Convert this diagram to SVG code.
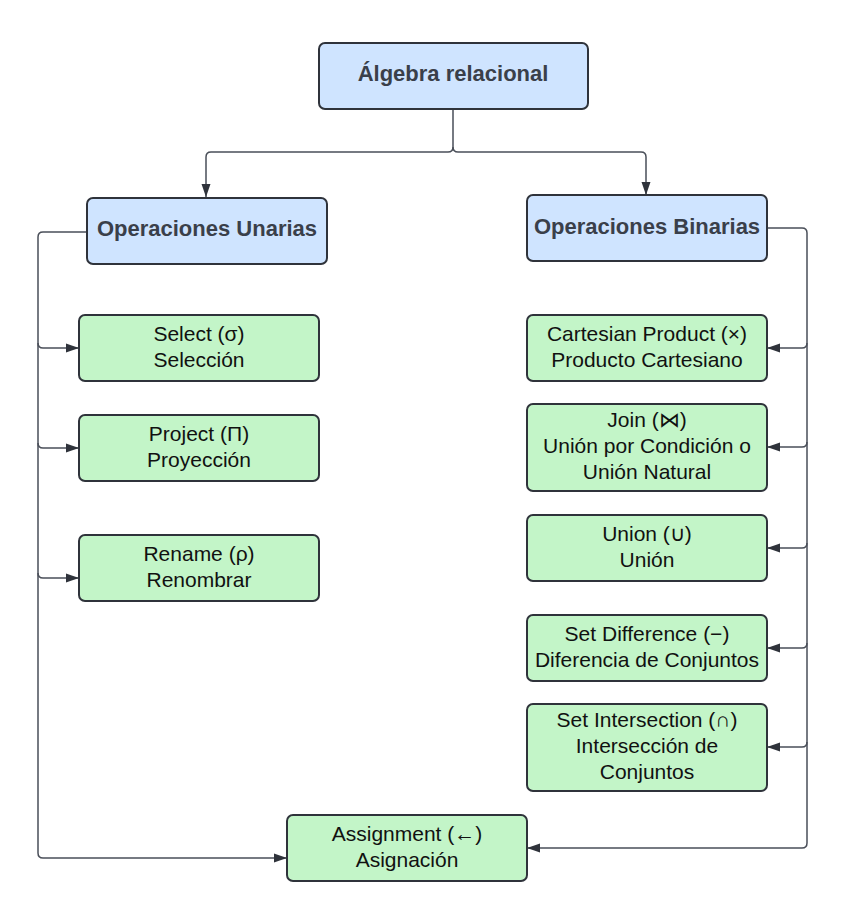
<svg xmlns="http://www.w3.org/2000/svg" width="847" height="924" viewBox="0 0 847 924">
<style>
.blue{fill:#cfe4ff;stroke:#2f333b;stroke-width:2}
.green{fill:#c3f5c8;stroke:#2f333b;stroke-width:2}
.h{font-family:"Liberation Sans",Arial,sans-serif;font-weight:bold;font-size:22px;fill:#3a3f4a;text-anchor:middle}
.t{font-family:"Liberation Sans",Arial,sans-serif;font-size:21px;fill:#111;text-anchor:middle}
.c{fill:none;stroke:#4a4f59;stroke-width:1.5}
</style>
<defs>
<marker id="arr" markerUnits="userSpaceOnUse" markerWidth="14" markerHeight="12" refX="13" refY="6" orient="auto">
<path d="M0,1.5 L13,6 L0,10.5 Z" fill="#2f333b"/>
</marker>
</defs>
<rect width="847" height="924" fill="#fff"/>
<g id="connectors">
<path class="c" d="M453,109 V147 Q453,152 448,152 H211 Q206,152 206,157 V197" marker-end="url(#arr)"/>
<path class="c" d="M453,147 Q453,152 458,152 H641 Q646,152 646,157 V195" marker-end="url(#arr)"/>
<path class="c" d="M87,232 H43 Q38,232 38,237 V853 Q38,858 43,858 H287" marker-end="url(#arr)"/>
<path class="c" d="M38,343 Q38,348 43,348 H79" marker-end="url(#arr)"/>
<path class="c" d="M38,443 Q38,448 43,448 H79" marker-end="url(#arr)"/>
<path class="c" d="M38,573 Q38,578 43,578 H79" marker-end="url(#arr)"/>
<path class="c" d="M767,228 H802 Q807,228 807,233 V843 Q807,848 802,848 H527" marker-end="url(#arr)"/>
<path class="c" d="M807,343 Q807,348 802,348 H767" marker-end="url(#arr)"/>
<path class="c" d="M807,442 Q807,447 802,447 H767" marker-end="url(#arr)"/>
<path class="c" d="M807,543 Q807,548 802,548 H767" marker-end="url(#arr)"/>
<path class="c" d="M807,643 Q807,648 802,648 H767" marker-end="url(#arr)"/>
<path class="c" d="M807,742 Q807,747 802,747 H767" marker-end="url(#arr)"/>
</g>
<g id="algebra">
<rect class="blue" x="319" y="43" width="269" height="66" rx="6"/>
<text class="h" x="453" y="81">Álgebra relacional</text>
</g>
<g id="unarias">
<rect class="blue" x="87" y="198" width="240" height="66" rx="6"/>
<text class="h" x="207" y="236">Operaciones Unarias</text>
</g>
<g id="binarias">
<rect class="blue" x="527" y="195" width="240" height="66" rx="6"/>
<text class="h" x="647" y="234">Operaciones Binarias</text>
</g>
<g id="select">
<rect class="green" x="79" y="315" width="240" height="66" rx="6"/>
<text class="t" x="199" y="341">Select (σ)</text>
<text class="t" x="199" y="367">Selección</text>
</g>
<g id="project">
<rect class="green" x="79" y="415" width="240" height="66" rx="6"/>
<text class="t" x="199" y="441">Project (Π)</text>
<text class="t" x="199" y="467">Proyección</text>
</g>
<g id="rename">
<rect class="green" x="79" y="535" width="240" height="66" rx="6"/>
<text class="t" x="199" y="561">Rename (ρ)</text>
<text class="t" x="199" y="587">Renombrar</text>
</g>
<g id="cartesian">
<rect class="green" x="527" y="315" width="240" height="66" rx="6"/>
<text class="t" x="647" y="341">Cartesian Product (×)</text>
<text class="t" x="647" y="367">Producto Cartesiano</text>
</g>
<g id="join">
<rect class="green" x="527" y="404" width="240" height="87" rx="6"/>
<text class="t" x="647" y="427">Join (⋈)</text>
<text class="t" x="647" y="453">Unión por Condición o</text>
<text class="t" x="647" y="479">Unión Natural</text>
</g>
<g id="union">
<rect class="green" x="527" y="515" width="240" height="66" rx="6"/>
<text class="t" x="647" y="541">Union (∪)</text>
<text class="t" x="647" y="567">Unión</text>
</g>
<g id="difference">
<rect class="green" x="527" y="615" width="240" height="66" rx="6"/>
<text class="t" x="647" y="641">Set Difference (−)</text>
<text class="t" x="647" y="667">Diferencia de Conjuntos</text>
</g>
<g id="intersection">
<rect class="green" x="527" y="704" width="240" height="87" rx="6"/>
<text class="t" x="647" y="727">Set Intersection (∩)</text>
<text class="t" x="647" y="753">Intersección de</text>
<text class="t" x="647" y="779">Conjuntos</text>
</g>
<g id="assignment">
<rect class="green" x="287" y="815" width="240" height="66" rx="6"/>
<text class="t" x="407" y="841">Assignment (←)</text>
<text class="t" x="407" y="867">Asignación</text>
</g>
</svg>
